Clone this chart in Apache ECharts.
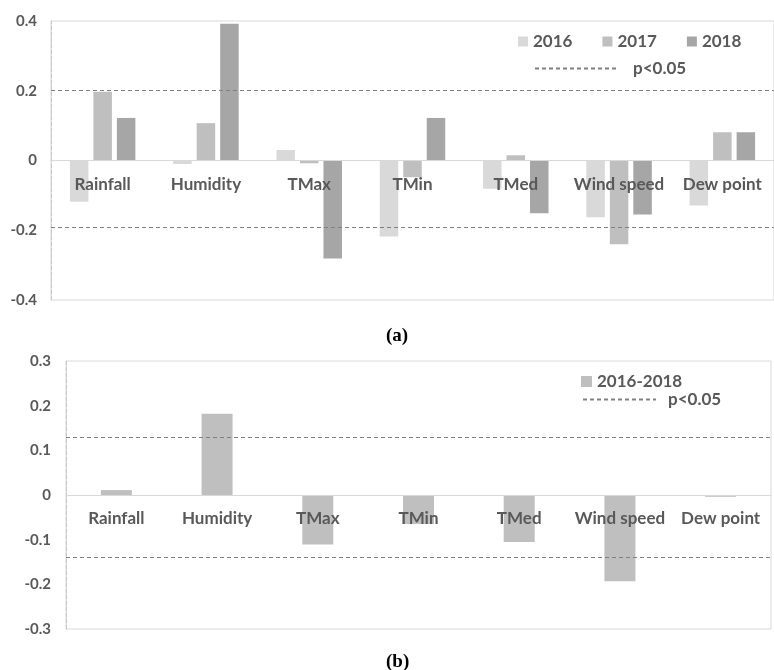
<!DOCTYPE html>
<html>
<head>
<meta charset="utf-8">
<script src="https://cdn.jsdelivr.net/npm/echarts@6/dist/echarts.min.js"></script>
<style>
  html, body { margin: 0; padding: 0; background: #fff; }
  #main { width: 774px; height: 670px; }
</style>
</head>
<body>
<div id="main"></div>
<script>
// categories on both panels
var categories = ['Rainfall', 'Humidity', 'TMax', 'TMin', 'TMed', 'Wind speed', 'Dew point'];

// panel (a): yearly correlations
var v2016 = [-0.118, -0.010, 0.030, -0.218, -0.081, -0.163, -0.129];
var v2017 = [0.197, 0.107, -0.008, -0.048, 0.015, -0.240, 0.081];
var v2018 = [0.122, 0.392, -0.281, 0.122, -0.151, -0.155, 0.081];
var sigA = [0.197, -0.194];
var ticksA = [-0.4, 0.4, 0.2];   // min, max, interval

// panel (b): whole period
var vAll = [0.011, 0.182, -0.111, -0.065, -0.105, -0.193, -0.004];
var sigB = [0.132, -0.143];
var ticksB = [-0.3, 0.3, 0.1];

var labelColor = '#595959';
var font = 'Lato';

// plot boxes
var boxA = { left: 51, right: -1, top: 21, height: 279 };
var boxB = { left: 66, right: 3, top: 361, height: 268 };

function tickFmt(v) {
    return v === 0 ? '0' : v.toFixed(1);
}

function sigLine(vals, grid) {
    return {
        name: 'p<0.05',
        type: 'line',
        xAxisIndex: grid,
        yAxisIndex: grid,
        data: [],
        symbol: 'none',
        showSymbol: false,
        lineStyle: { type: [4, 3], color: '#808080', width: 1 },
        itemStyle: { color: '#808080' },
        markLine: {
            silent: true,
            symbol: ['none', 'none'],
            label: { show: false },
            lineStyle: { type: [4, 3], color: '#808080', width: 1 },
            data: vals.map(function (v) { return { yAxis: v }; })
        }
    };
}

// onZero doesn't kick in here, so shift the category axis up to the zero line
function catAxis(grid, box, t, margin) {
    return {
        type: 'category',
        gridIndex: grid,
        data: categories,
        z: 5,
        position: 'bottom',
        offset: -box.height * (0 - t[0]) / (t[1] - t[0]),
        axisLine: { onZero: false, lineStyle: { color: '#d9d9d9', width: 1 } },
        axisTick: { show: false },
        axisLabel: {
            interval: 0, margin: margin, color: labelColor,
            fontFamily: font, fontWeight: 'bold', fontSize: 17
        }
    };
}

function valAxis(grid, t, margin) {
    return {
        type: 'value',
        gridIndex: grid,
        min: t[0], max: t[1], interval: t[2],
        splitLine: { show: false },
        axisTick: { show: false },
        axisLine: { show: true, onZero: false, lineStyle: { color: '#c8c8c8', type: [4, 2] } },
        axisLabel: {
            margin: margin, color: labelColor, fontFamily: font,
            fontWeight: 'bold', fontSize: 15, formatter: tickFmt
        }
    };
}

var legendText = { color: labelColor, fontFamily: font, fontWeight: 'bold', fontSize: 17 };

var captionRich = {
    p: { fontFamily: 'Liberation Serif', fontSize: 19, color: '#000' },
    b: { fontFamily: 'Liberation Serif', fontSize: 19, fontWeight: 'bold', color: '#000' }
};

var option = {
    backgroundColor: '#fff',
    animation: false,
    title: [
        { text: '{p|(}{b|a}{p|)}', left: 381, top: 322, textStyle: { rich: captionRich } },
        { text: '{p|(}{b|b}{p|)}', left: 381, top: 648, textStyle: { rich: captionRich } }
    ],
    legend: [
        {
            data: ['2016', '2017', '2018'], left: 513, top: 28,
            itemWidth: 10, itemHeight: 10, itemGap: 30, icon: 'rect',
            textStyle: legendText
        },
        {
            data: ['p<0.05'], left: 529, top: 55, itemWidth: 81, itemHeight: 10,
            itemStyle: { opacity: 0 },
            textStyle: Object.assign({ padding: [0, 0, 0, 12] }, legendText)
        },
        {
            data: ['2016-2018'], left: 576, top: 368,
            itemWidth: 11, itemHeight: 11, icon: 'rect',
            textStyle: legendText
        },
        {
            data: ['p<0.05'], left: 577, top: 386, itemWidth: 73, itemHeight: 10,
            itemStyle: { opacity: 0 },
            textStyle: Object.assign({ padding: [0, 0, 0, 7] }, legendText)
        }
    ],
    grid: [
        Object.assign({ show: true, borderColor: '#d9d9d9', borderWidth: 1 }, boxA),
        Object.assign({ show: true, borderColor: '#d9d9d9', borderWidth: 1 }, boxB)
    ],
    xAxis: [catAxis(0, boxA, ticksA, 16), catAxis(1, boxB, ticksB, 15)],
    yAxis: [valAxis(0, ticksA, 14), valAxis(1, ticksB, 15)],
    series: [
        { name: '2016', type: 'bar', data: v2016, barWidth: 18.5, barGap: '27%', itemStyle: { color: '#d9d9d9' } },
        { name: '2017', type: 'bar', data: v2017, barWidth: 18.5, barGap: '27%', itemStyle: { color: '#bfbfbf' } },
        { name: '2018', type: 'bar', data: v2018, barWidth: 18.5, barGap: '27%', itemStyle: { color: '#a6a6a6' } },
        sigLine(sigA, 0),
        { name: '2016-2018', type: 'bar', xAxisIndex: 1, yAxisIndex: 1, data: vAll, barWidth: 31, itemStyle: { color: '#bfbfbf' } },
        sigLine(sigB, 1)
    ]
};

var chart = echarts.init(document.getElementById('main'));
chart.setOption(option);
</script>
</body>
</html>
